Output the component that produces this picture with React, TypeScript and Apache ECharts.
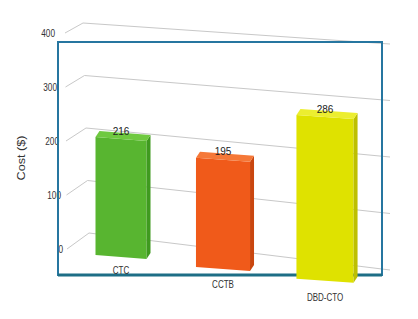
import React, { useEffect, useRef } from 'react';
import * as echarts from 'echarts';

const categories = ['CTC', 'CCTB', 'DBD-CTO'];
const costs = [216, 195, 286];
const yTicks = [0, 100, 200, 300, 400];
const barColors = [
  { front: '#58b530', top: '#6fc940', side: '#3f9a1f' },
  { front: '#f05a1a', top: '#f57838', side: '#c9460f' },
  { front: '#dfe200', top: '#ecee30', side: '#bdbf00' },
];
const FONT = 'Liberation Sans, Arial, sans-serif';

export default function App() {
  const ref = useRef<HTMLDivElement>(null);
  useEffect(() => {
    if (!ref.current) return;
    const chart = echarts.init(ref.current, undefined, { renderer: 'svg' });
    const option: any = {
      animation: false,
      backgroundColor: '#ffffff',
      grid: { left: 70, width: 306, top: 23, height: 210 },
      xAxis: { type: 'category', data: categories, show: false },
      yAxis: { type: 'value', min: 0, max: 400, interval: 100, show: false },
      graphic: {
        elements: [
          {
            type: 'rect',
            z: 2,
            shape: { x: 58, y: 42, width: 324, height: 233 },
            style: { fill: 'none', stroke: '#2676a0', lineWidth: 2 },
          },
          {
            type: 'line',
            z: 2,
            shape: { x1: 58, y1: 275, x2: 382, y2: 275 },
            style: { stroke: '#1d6e86', lineWidth: 3 },
          },
          {
            type: 'text',
            z: 2,
            x: 21,
            y: 158,
            rotation: Math.PI / 2,
            scaleX: 1.15,
            style: {
              text: 'Cost ($)',
              align: 'center',
              verticalAlign: 'middle',
              fontSize: 11,
              fontFamily: FONT,
              fill: '#333',
            },
          },
        ],
      },
      series: [
        {
          type: 'custom',
          z: 1,
          silent: true,
          data: yTicks.map((v) => [0, v]),
          encode: { x: 0, y: 1 },
          renderItem: (params: any, api: any) => {
            const v = api.value(1);
            const by = api.coord([0, v])[1];
            const bx = 89 - v * 0.015;
            const fx = bx - 22 + v * 0.01;
            const fy = by + 16 - v * 0.015;
            const rx = 390;
            const ry = by + 37 - v * 0.04;
            return {
              type: 'group',
              children: [
                {
                  type: 'polyline',
                  shape: { points: [[fx, fy], [bx, by], [rx, ry]] },
                  style: { stroke: '#c8c8c8', lineWidth: 1, fill: null },
                },
                {
                  type: 'text',
                  x: fx - 10 + (400 - v) * 0.015,
                  y: fy,
                  scaleX: 0.75,
                  style: {
                    text: String(v),
                    align: 'right',
                    verticalAlign: 'middle',
                    fontSize: 11,
                    fontFamily: FONT,
                    fill: '#333',
                  },
                },
              ],
            };
          },
        },
        {
          type: 'custom',
          z: 3,
          silent: true,
          data: costs.map((v, i) => [i, v]),
          encode: { x: 0, y: 1 },
          renderItem: (params: any, api: any) => {
            const i = api.value(0);
            const v = api.value(1);
            const [cx, y0] = api.coord([i, 0]);
            const yv = api.coord([i, v])[1];
            const h = y0 - yv;
            const d = cx - 121;
            const scale = 1.04 + 0.00025 * d;
            const base = y0 + 22 + 0.117 * d;
            const top = base - h * scale;
            const w = 51 + 0.03 * d;
            const xL = cx - w / 2;
            const xR = cx + w / 2;
            const sk = 4;
            const dx = 4;
            const dy = -6;
            const c = barColors[i];
            return {
              type: 'group',
              children: [
                {
                  type: 'polygon',
                  shape: { points: [[xL, top], [xR, top + sk], [xR, base + sk], [xL, base]] },
                  style: { fill: c.front },
                },
                {
                  type: 'polygon',
                  shape: {
                    points: [[xR, top + sk], [xR + dx, top + sk + dy], [xR + dx, base + sk + dy], [xR, base + sk]],
                  },
                  style: { fill: c.side },
                },
                {
                  type: 'polygon',
                  shape: {
                    points: [[xL, top], [xR, top + sk], [xR + dx, top + sk + dy], [xL + dx, top + dy]],
                  },
                  style: { fill: c.top },
                },
                {
                  type: 'text',
                  x: cx,
                  y: top + dy + 0,
                  style: {
                    text: String(v),
                    align: 'center',
                    verticalAlign: 'middle',
                    fontSize: 10,
                    fontFamily: FONT,
                    fill: '#222',
                  },
                },
                {
                  type: 'text',
                  x: cx,
                  y: base + 16 + 0.015 * d,
                  scaleX: 0.8,
                  style: {
                    text: categories[i],
                    align: 'center',
                    verticalAlign: 'middle',
                    fontSize: 10,
                    fontFamily: FONT,
                    fill: '#333',
                  },
                },
              ],
            };
          },
        },
      ],
    };
    chart.setOption(option);
    return () => chart.dispose();
  }, []);
  return (
    <div
      ref={ref}
      style={{ position: 'fixed', left: 0, top: 0, width: 418, height: 319, background: '#fff' }}
    />
  );
}
